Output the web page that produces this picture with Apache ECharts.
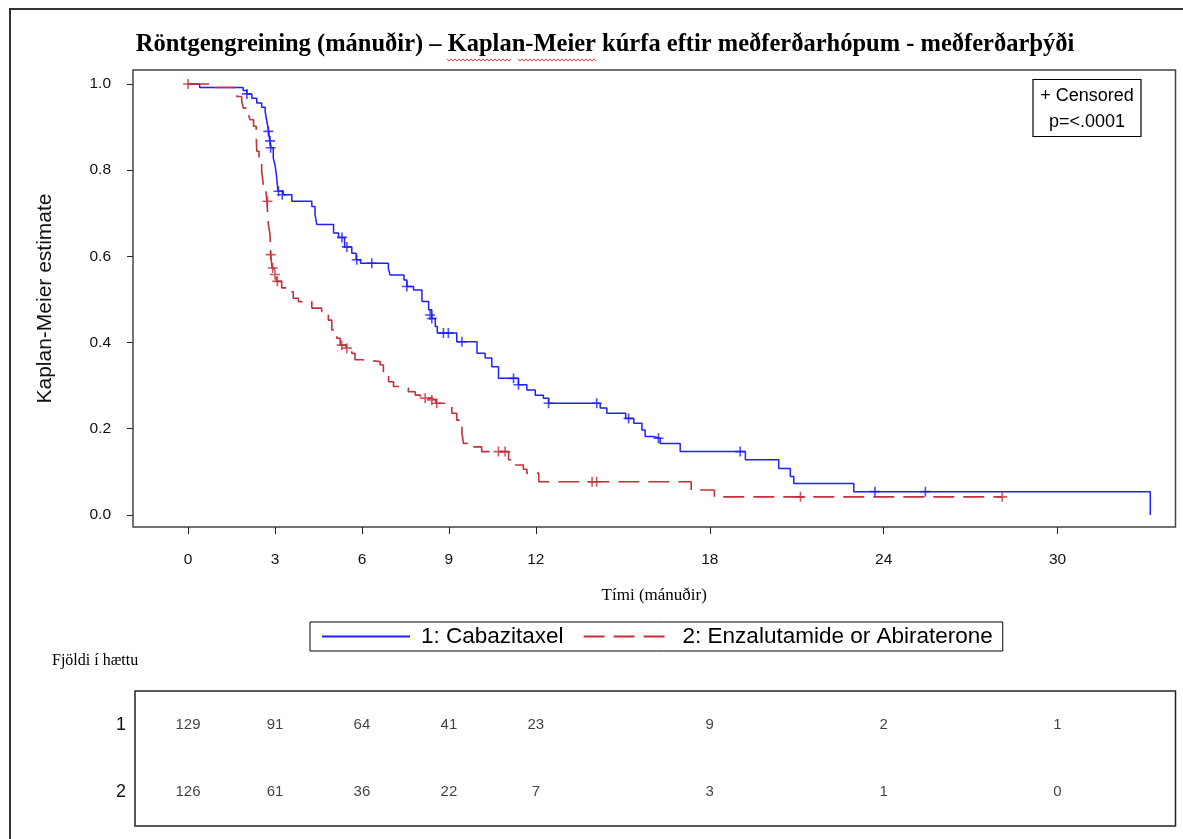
<!DOCTYPE html>
<html>
<head>
<meta charset="utf-8">
<script src="https://cdn.jsdelivr.net/npm/echarts@6/dist/echarts.min.js"></script>
<style>html,body{margin:0;padding:0;background:#fff;}#c{width:1183px;height:839px;}</style>
</head>
<body>
<div id="c"></div>
<script>
// ---- data ----
const blueTime = [0, 0.4, 1.9, 2.03, 2.2, 2.37, 2.54, 2.66, 2.72, 2.78, 2.82, 2.86, 2.94, 3.0, 3.06, 3.1, 3.29, 3.58, 4.27, 4.38, 4.44, 5.02, 5.19, 5.4, 5.65, 5.8, 5.95, 6.91, 6.97, 7.45, 7.55, 7.78, 8.07, 8.3, 8.41, 8.53, 8.6, 9.27, 9.97, 10.25, 10.48, 10.71, 11.4, 11.69, 11.98, 12.26, 12.44, 14.22, 14.45, 15.1, 15.38, 15.66, 15.77, 16.05, 16.29, 16.98, 19.23, 20.38, 20.78, 20.9, 22.97, 33.2];
const blueSurv = [1.0, 0.992, 0.985, 0.977, 0.967, 0.956, 0.946, 0.936, 0.913, 0.89, 0.868, 0.852, 0.828, 0.812, 0.782, 0.751, 0.743, 0.728, 0.716, 0.697, 0.674, 0.654, 0.644, 0.622, 0.607, 0.592, 0.584, 0.572, 0.557, 0.545, 0.53, 0.522, 0.495, 0.476, 0.456, 0.437, 0.422, 0.402, 0.375, 0.364, 0.344, 0.317, 0.302, 0.29, 0.278, 0.271, 0.259, 0.248, 0.236, 0.224, 0.213, 0.197, 0.182, 0.178, 0.166, 0.147, 0.128, 0.108, 0.089, 0.073, 0.054, 0.0];
const blueCensTime = [2.03, 2.77, 2.83, 2.85, 3.12, 3.25, 5.31, 5.48, 5.82, 6.34, 7.55, 8.35, 8.41, 8.81, 8.98, 9.45, 11.23, 11.4, 12.44, 14.1, 15.2, 16.23, 19.05, 23.7, 25.44];
const blueCensSurv = [0.977, 0.89, 0.868, 0.852, 0.751, 0.743, 0.644, 0.622, 0.592, 0.584, 0.53, 0.464, 0.456, 0.422, 0.422, 0.402, 0.317, 0.302, 0.259, 0.259, 0.224, 0.178, 0.147, 0.054, 0.054];

const redTime = [0, 0.8, 1.68, 1.85, 1.91, 2.08, 2.14, 2.26, 2.35, 2.37, 2.45, 2.54, 2.6, 2.69, 2.72, 2.77, 2.83, 2.85, 2.9, 2.97, 3.05, 3.23, 3.4, 3.63, 3.81, 4.27, 4.61, 4.84, 4.96, 5.13, 5.25, 5.45, 5.65, 5.76, 6.0, 6.63, 6.74, 6.92, 7.09, 7.43, 7.6, 7.84, 8.01, 8.41, 8.55, 8.98, 9.1, 9.27, 9.45, 9.5, 9.85, 10.13, 11.06, 11.29, 11.57, 11.69, 12.1, 17.36, 18.16, 28.09];
const redSurv = [1.0, 0.992, 0.971, 0.96, 0.944, 0.929, 0.917, 0.902, 0.882, 0.844, 0.828, 0.797, 0.766, 0.747, 0.728, 0.674, 0.65, 0.604, 0.573, 0.558, 0.542, 0.527, 0.518, 0.503, 0.495, 0.48, 0.472, 0.452, 0.429, 0.41, 0.394, 0.387, 0.375, 0.36, 0.356, 0.348, 0.325, 0.309, 0.298, 0.294, 0.286, 0.278, 0.271, 0.267, 0.259, 0.255, 0.236, 0.22, 0.19, 0.166, 0.158, 0.147, 0.128, 0.116, 0.106, 0.097, 0.077, 0.058, 0.042, 0.042];
const redCensTime = [0, 2.74, 2.85, 2.92, 3.0, 3.08, 5.3, 5.48, 8.18, 8.41, 8.58, 10.71, 10.94, 13.94, 14.1, 21.13, 28.09];
const redCensSurv = [1.0, 0.728, 0.604, 0.573, 0.558, 0.542, 0.394, 0.387, 0.271, 0.267, 0.259, 0.147, 0.147, 0.077, 0.077, 0.042, 0.042];

const xTicks = [0, 3, 6, 9, 12, 18, 24, 30];
const yTicks = [0, 0.2, 0.4, 0.6, 0.8, 1.0];
const riskGroups = ['1', '2'];
const risk1 = [129, 91, 64, 41, 23, 9, 2, 1];
const risk2 = [126, 61, 36, 22, 7, 3, 1, 0];

const seriesNames = ['1: Cabazitaxel', '2: Enzalutamide or Abiraterone'];
const titleText = 'Röntgengreining (mánuðir) – Kaplan-Meier kúrfa eftir meðferðarhópum - meðferðarþýði';
const xName = 'Tími (mánuðir)';
const yName = 'Kaplan-Meier estimate';
const riskTitle = 'Fjöldi í hættu';
const boxLines = ['+ Censored', 'p=<.0001'];

// ---- build ----
const zip = (a, b) => a.map((v, i) => [v, b[i]]);
const BLUE = '#1f1fff', RED = '#c3303a';
const SANS = 'Liberation Sans, Arial, sans-serif';
const SERIF = 'Liberation Serif, Times New Roman, serif';
const plusPath = 'path://M-0.8,-5H0.8V-0.8H5V0.8H0.8V5H-0.8V0.8H-5V-0.8H-0.8Z';

const riskData = [];
xTicks.forEach((t, i) => {
  riskData.push([t, riskGroups[0], risk1[i]]);
  riskData.push([t, riskGroups[1], risk2[i]]);
});

function squiggle(x0, x1, y) {
  const pts = [];
  let up = true;
  for (let x = x0; x <= x1; x += 2) { pts.push([x, up ? y - 1.2 : y + 1.2]); up = !up; }
  return {type: 'polyline', shape: {points: pts}, style: {stroke: '#e03030', lineWidth: 0.9, fill: null}, silent: true};
}

const chart = echarts.init(document.getElementById('c'), null, {renderer: 'canvas'});
chart.setOption({
  animation: false,
  backgroundColor: '#fff',
  grid: [
    {left: 133, right: 7.5, top: 70, height: 457, show: true, borderColor: '#444', borderWidth: 1.5, containLabel: false},
    {left: 135, right: 7.5, top: 691, height: 135, show: true, borderColor: '#222', borderWidth: 1.5, containLabel: false}
  ],
  xAxis: [
    {gridIndex: 0, type: 'value', min: -1.9, max: 34.07,
     axisLine: {show: false, onZero: false}, splitLine: {show: false},
     axisTick: {show: true, length: 7, lineStyle: {color: '#222'}, customValues: xTicks},
     axisLabel: {color: '#111', fontSize: 15.5, fontFamily: SANS, margin: 25, customValues: xTicks},
     name: xName, nameLocation: 'middle', nameGap: 60,
     nameTextStyle: {fontFamily: SERIF, fontSize: 17, color: '#000'}},
    {gridIndex: 1, type: 'value', min: -1.83, max: 34.07, show: false}
  ],
  yAxis: [
    {gridIndex: 0, type: 'value', min: -0.028, max: 1.0325,
     axisLine: {show: false, onZero: false}, splitLine: {show: false},
     axisTick: {show: true, length: 6, lineStyle: {color: '#222'}, customValues: yTicks},
     axisLabel: {color: '#111', fontSize: 15.5, fontFamily: SANS, margin: 22, customValues: yTicks,
                 formatter: v => v.toFixed(1)},
     name: yName, nameLocation: 'middle', nameGap: 77, nameRotate: 90,
     nameTextStyle: {fontFamily: SANS, fontSize: 21, color: '#111'}},
    {gridIndex: 1, type: 'category', data: riskGroups, inverse: true,
     axisLine: {show: false, onZero: false}, axisTick: {show: false}, splitLine: {show: false},
     axisLabel: {fontSize: 18, fontFamily: SANS, color: '#111', margin: 9}}
  ],
  legend: {
    data: seriesNames, left: 310, top: 622,
    borderColor: '#000', borderWidth: 1, padding: [3, 10, 3, 11],
    itemWidth: 88, itemHeight: 14, itemGap: 19,
    itemStyle: {opacity: 0},
    textStyle: {fontSize: 22.5, fontFamily: SANS, color: '#000', padding: [0, 0, 0, 6]}
  },
  graphic: [
    {type: 'rect', shape: {x: 10, y: 9, width: 1200, height: 860}, style: {fill: 'none', stroke: '#333', lineWidth: 2}, silent: true},
    {type: 'text', x: 605, y: 45, style: {text: titleText, font: 'bold 24.5px ' + SERIF, fill: '#000', textAlign: 'center', textVerticalAlign: 'middle'}},
    squiggle(447, 512, 60),
    squiggle(518, 597, 60),
    {type: 'text', x: 52, y: 661, style: {text: riskTitle, font: '16px ' + SERIF, fill: '#000', textAlign: 'left', textVerticalAlign: 'middle'}},
    {type: 'rect', shape: {x: 1033, y: 79.5, width: 108, height: 57}, style: {fill: '#fff', stroke: '#000', lineWidth: 1.2}, z: 10},
    {type: 'text', x: 1087, y: 96, style: {text: boxLines[0], font: '18px ' + SANS, fill: '#000', textAlign: 'center', textVerticalAlign: 'middle'}, z: 11},
    {type: 'text', x: 1087, y: 122, style: {text: boxLines[1], font: '18px ' + SANS, fill: '#000', textAlign: 'center', textVerticalAlign: 'middle'}, z: 11}
  ],
  series: [
    {name: seriesNames[0], type: 'line', step: 'end', xAxisIndex: 0, yAxisIndex: 0,
     data: zip(blueTime, blueSurv), symbol: 'none', color: BLUE,
     lineStyle: {color: BLUE, width: 1.5, type: 'solid'}, z: 3},
    {name: seriesNames[1], type: 'line', step: 'end', xAxisIndex: 0, yAxisIndex: 0,
     data: zip(redTime, redSurv), symbol: 'none', color: RED,
     lineStyle: {color: RED, width: 1.6, type: [21, 9]}, z: 4},
    {type: 'scatter', xAxisIndex: 0, yAxisIndex: 0, data: zip(blueCensTime, blueCensSurv),
     symbol: plusPath, symbolSize: [10, 10], itemStyle: {color: BLUE}, z: 5},
    {type: 'scatter', xAxisIndex: 0, yAxisIndex: 0, data: zip(redCensTime, redCensSurv),
     symbol: plusPath, symbolSize: [10, 10], itemStyle: {color: RED}, z: 5},
    {type: 'scatter', xAxisIndex: 1, yAxisIndex: 1, data: riskData, symbolSize: 0,
     label: {show: true, position: 'inside', formatter: p => String(p.value[2]),
             fontSize: 15, fontFamily: SANS, color: '#111'}}
  ]
});
</script>
</body>
</html>
